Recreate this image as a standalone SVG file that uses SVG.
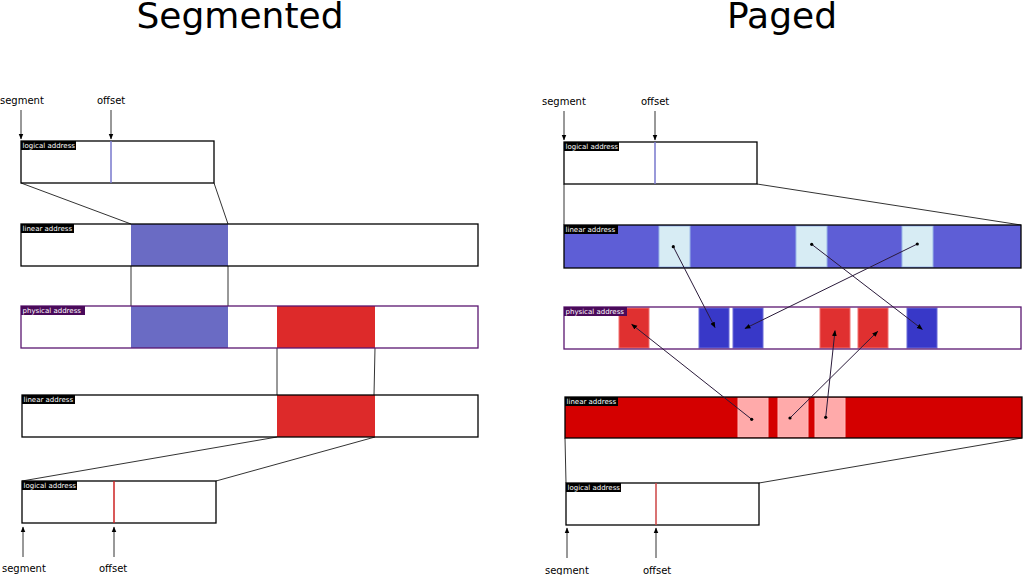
<svg xmlns="http://www.w3.org/2000/svg" width="1023" height="575" viewBox="0 0 1023 575">
<defs>
<marker id="ah" viewBox="0 0 10 10" refX="9" refY="5" markerWidth="6" markerHeight="6" markerUnits="userSpaceOnUse" orient="auto"><path d="M0,1 L10,5 L0,9 z" fill="#000"/></marker>
<style>
.title{font-family:"DejaVu Sans",sans-serif;font-size:36px;fill:#000;text-anchor:middle}
.lbl{font-family:"DejaVu Sans",sans-serif;font-size:10px;fill:#000}
.tag{font-family:"DejaVu Sans",sans-serif;font-size:7px;fill:#fff}
.box{fill:none;stroke:#000;stroke-width:1.3}
.pbox{fill:none;stroke:#5a1670;stroke-width:1.3}
.conn{stroke:#333;stroke-width:1;fill:none}
.arr{stroke:#333;stroke-width:1;fill:none;marker-end:url(#ah)}
.parr{stroke:#2a1a3a;stroke-width:1;fill:none;marker-end:url(#ah)}
.dot{fill:#000}
.lb{fill:#d7ecf4;stroke:#9ab8e8;stroke-width:1}
.pk{fill:#ffaaaa;stroke:#ffbbbb;stroke-width:1}
.rd{fill:#e03030;stroke:#f07070;stroke-width:1}
.bl{fill:#3838c8;stroke:#6a6ad8;stroke-width:1}
</style>
</defs>
<rect width="1023" height="575" fill="#fff"/>
<text class="title" x="240" y="28">Segmented</text>
<text class="title" x="782" y="28">Paged</text>

<g id="connectors">
<line class="arr" x1="21" y1="110" x2="21" y2="139"/>
<line class="arr" x1="111" y1="110" x2="111" y2="139"/>
<line class="conn" x1="21" y1="183" x2="131" y2="224"/>
<line class="conn" x1="214" y1="183" x2="228" y2="224"/>
<line class="conn" x1="131" y1="266" x2="131" y2="306"/>
<line class="conn" x1="228" y1="266" x2="228" y2="306"/>
<line class="conn" x1="277" y1="348" x2="277" y2="395"/>
<line class="conn" x1="375" y1="348" x2="374" y2="395"/>
<line class="conn" x1="277" y1="437" x2="22" y2="481"/>
<line class="conn" x1="375" y1="437" x2="216" y2="481"/>
<line class="arr" x1="23" y1="557" x2="23" y2="527"/>
<line class="arr" x1="114" y1="557" x2="114" y2="527"/>

<line class="arr" x1="564" y1="111" x2="564" y2="140"/>
<line class="arr" x1="655" y1="111" x2="655" y2="140"/>
<line class="conn" x1="564" y1="184" x2="564" y2="225"/>
<line class="conn" x1="757" y1="184" x2="1021" y2="225"/>
<line class="conn" x1="565" y1="438" x2="566" y2="483"/>
<line class="conn" x1="1022" y1="438" x2="759" y2="483"/>
<line class="arr" x1="567" y1="558" x2="567" y2="528"/>
<line class="arr" x1="656" y1="558" x2="656" y2="528"/>
</g>

<g id="seg-logical-top">
<rect class="box" x="21" y="141" width="193" height="42"/>
<line x1="111" y1="141" x2="111" y2="183" stroke="#7777cc" stroke-width="1.5"/>
<rect x="21" y="141" width="55" height="9" fill="#000"/>
<text class="tag" x="22.5" y="148">logical address</text>
</g>
<g id="seg-linear-top">
<rect x="131" y="224" width="97" height="42" fill="#6a6bc4"/>
<rect class="box" x="21" y="224" width="457" height="42"/>
<rect x="21" y="224" width="53" height="9" fill="#000"/>
<text class="tag" x="22.5" y="231">linear address</text>
</g>
<g id="seg-physical">
<rect x="131" y="306" width="97" height="42" fill="#6a6bc4"/>
<rect x="277" y="306" width="98" height="42" fill="#dd2a2a"/>
<rect class="pbox" x="21" y="306" width="457" height="42"/>
<rect x="21" y="306" width="64" height="9" fill="#4a0a5a"/>
<text class="tag" x="22.5" y="313">physical address</text>
</g>
<g id="seg-linear-bottom">
<rect x="277" y="395" width="98" height="42" fill="#dd2a2a"/>
<rect class="box" x="22" y="395" width="456" height="42"/>
<rect x="22" y="395" width="53" height="9" fill="#000"/>
<text class="tag" x="23.5" y="402">linear address</text>
</g>
<g id="seg-logical-bottom">
<rect class="box" x="22" y="481" width="194" height="42"/>
<line x1="114" y1="481" x2="114" y2="523" stroke="#cc2222" stroke-width="1.5"/>
<rect x="22" y="481" width="55" height="9" fill="#000"/>
<text class="tag" x="23.5" y="488">logical address</text>
</g>
<g id="seg-labels">
<text class="lbl" x="0" y="104">segment</text>
<text class="lbl" x="97" y="104">offset</text>
<text class="lbl" x="2" y="572">segment</text>
<text class="lbl" x="99" y="572">offset</text>
</g>

<g id="pg-logical-top">
<rect class="box" x="564" y="142" width="193" height="42"/>
<line x1="655" y1="142" x2="655" y2="184" stroke="#7777cc" stroke-width="1.5"/>
<rect x="564" y="142" width="55" height="9" fill="#000"/>
<text class="tag" x="565.5" y="149">logical address</text>
</g>
<g id="pg-linear-top">
<rect x="564" y="225" width="457" height="43" fill="#5e5ed6"/>
<rect class="lb" x="659" y="226" width="31" height="41"/>
<rect class="lb" x="796" y="226" width="31" height="41"/>
<rect class="lb" x="902" y="226" width="31" height="41"/>
<rect class="box" x="564" y="225" width="457" height="43"/>
<rect x="564" y="225" width="54" height="9" fill="#000"/>
<text class="tag" x="565.5" y="232">linear address</text>
</g>
<g id="pg-physical">
<rect class="rd" x="619" y="308" width="30" height="40"/>
<rect class="rd" x="820" y="308" width="30" height="40"/>
<rect class="rd" x="858" y="308" width="30" height="40"/>
<rect class="bl" x="699" y="308" width="30" height="40"/>
<rect class="bl" x="733" y="308" width="30" height="40"/>
<rect class="bl" x="907" y="308" width="30" height="40"/>
<rect class="pbox" x="564" y="307" width="457" height="42"/>
<rect x="564" y="307" width="63" height="9" fill="#4a0a5a"/>
<text class="tag" x="565.5" y="314">physical address</text>
</g>
<g id="pg-linear-bottom">
<rect x="565" y="397" width="457" height="41" fill="#d40000"/>
<rect class="pk" x="738" y="398" width="30" height="39"/>
<rect class="pk" x="778" y="398" width="30" height="39"/>
<rect class="pk" x="815" y="398" width="30" height="39"/>
<rect class="box" x="565" y="397" width="457" height="41"/>
<rect x="565" y="397" width="53" height="9" fill="#000"/>
<text class="tag" x="566.5" y="404">linear address</text>
</g>
<g id="pg-logical-bottom">
<rect class="box" x="566" y="483" width="193" height="42"/>
<line x1="656" y1="483" x2="656" y2="525" stroke="#cc4444" stroke-width="1.5"/>
<rect x="566" y="483" width="55" height="9" fill="#000"/>
<text class="tag" x="567.5" y="490">logical address</text>
</g>
<g id="pg-mapping">
<line class="parr" x1="673.3" y1="246.7" x2="715" y2="327.5"/>
<line class="parr" x1="917.3" y1="244" x2="745" y2="328.5"/>
<line class="parr" x1="811.7" y1="244.3" x2="922.3" y2="329.3"/>
<line class="parr" x1="751.7" y1="419.3" x2="631.7" y2="324.3"/>
<line class="parr" x1="790" y1="418" x2="877.7" y2="331.3"/>
<line class="parr" x1="825.7" y1="417.3" x2="835" y2="330.7"/>
<circle class="dot" cx="673.3" cy="246.7" r="1.6"/>
<circle class="dot" cx="811.7" cy="244.3" r="1.6"/>
<circle class="dot" cx="917.3" cy="244" r="1.6"/>
<circle class="dot" cx="751.7" cy="419.3" r="1.6"/>
<circle class="dot" cx="790" cy="418" r="1.6"/>
<circle class="dot" cx="825.7" cy="417.3" r="1.6"/>
</g>
<g id="pg-labels">
<text class="lbl" x="542" y="105">segment</text>
<text class="lbl" x="641" y="105">offset</text>
<text class="lbl" x="545" y="574">segment</text>
<text class="lbl" x="643" y="574">offset</text>
</g>
</svg>
